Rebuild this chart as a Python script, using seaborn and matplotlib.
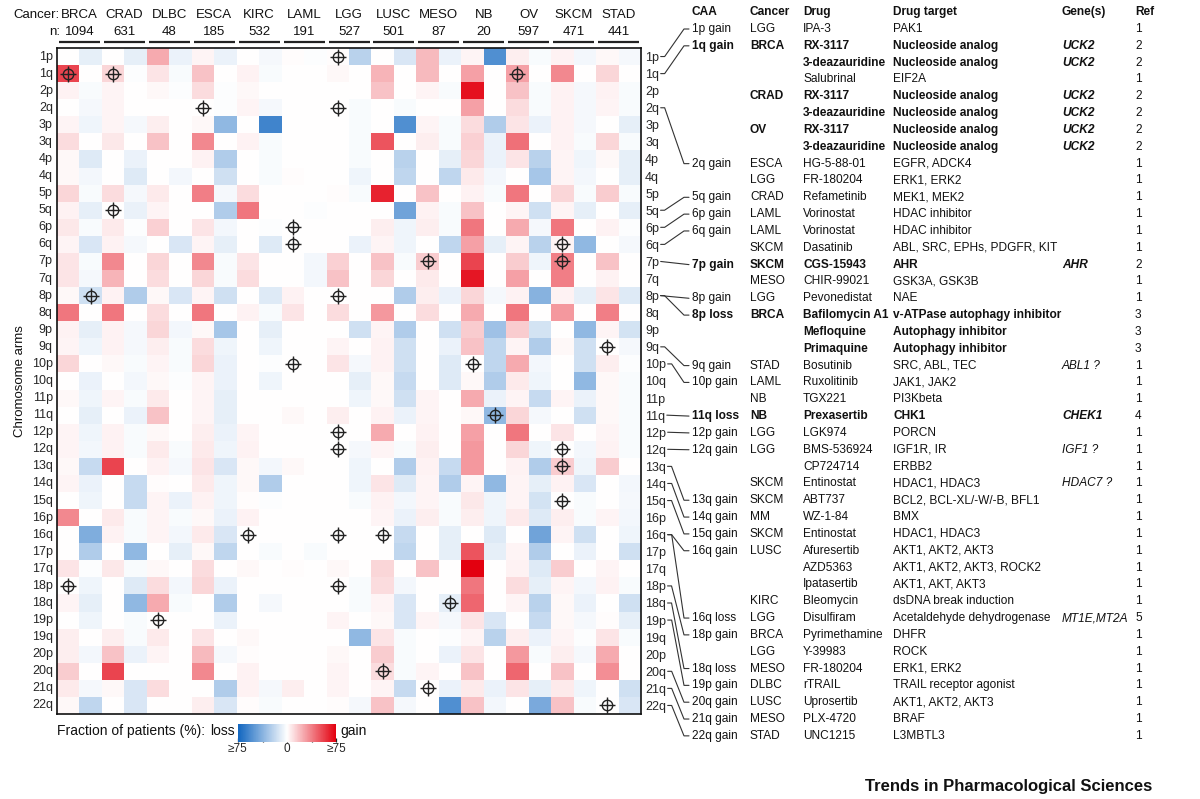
import numpy as np
import pandas as pd
import matplotlib
matplotlib.use('Agg')
import matplotlib.pyplot as plt
import seaborn as sns
from matplotlib.colors import LinearSegmentedColormap

# cancers and cohort sizes
cancers = ['BRCA', 'CRAD', 'DLBC', 'ESCA', 'KIRC', 'LAML', 'LGG',
           'LUSC', 'MESO', 'NB', 'OV', 'SKCM', 'STAD']
n_patients = [1094, 631, 48, 185, 532, 191, 527, 501, 87, 20, 597, 471, 441]

arms = ['1p', '1q', '2p', '2q', '3p', '3q', '4p', '4q', '5p', '5q', '6p', '6q',
        '7p', '7q', '8p', '8q', '9p', '9q', '10p', '10q', '11p', '11q', '12p',
        '12q', '13q', '14q', '15q', '16p', '16q', '17p', '17q', '18p', '18q',
        '19p', '19q', '20p', '20q', '21q', '22q']

# fraction of patients (%) with a gain, one row per arm, columns in cancer order
gain_pct = [
    [0, 0, 25, 3, 0, 1, 1, 0, 20, 3, 5, 4, 2],       # 1p
    [55, 12, 8, 18, 4, 0, 2, 22, 20, 28, 28, 35, 12],  # 1q
    [4, 3, 2, 10, 2, 0, 0, 18, 3, 70, 18, 4, 4],     # 2p
    [0, 3, 0, 0, 3, 0, 0, 0, 0, 28, 10, 4, 3],       # 2q
    [3, 3, 5, 2, 0, 0, 0, 0, 3, 10, 8, 4, 0],        # 3p
    [10, 7, 18, 35, 4, 0, 0, 50, 5, 14, 42, 4, 12],  # 3q
    [2, 0, 0, 4, 0, 0, 0, 0, 0, 12, 8, 3, 2],        # 4p
    [2, 0, 0, 0, 0, 1, 0, 0, 0, 6, 0, 3, 0],         # 4q
    [12, 10, 6, 38, 10, 0, 1, 65, 18, 4, 40, 12, 15],  # 5p
    [4, 0, 3, 0, 40, 0, 0, 0, 4, 18, 3, 3, 0],       # 5q
    [7, 6, 14, 8, 0, 0, 0, 5, 5, 40, 25, 40, 4],     # 6p
    [3, 4, 0, 3, 0, 0, 0, 3, 0, 28, 3, 3, 0],        # 6q
    [8, 35, 12, 35, 8, 0, 14, 18, 15, 55, 15, 38, 18],  # 7p
    [8, 22, 10, 12, 10, 0, 18, 12, 6, 68, 28, 38, 4],   # 7q
    [2, 4, 2, 3, 0, 4, 0, 0, 5, 12, 4, 4, 8],        # 8p
    [40, 40, 10, 40, 4, 8, 10, 30, 10, 25, 40, 30, 38],  # 8q
    [4, 4, 12, 2, 0, 0, 0, 3, 0, 15, 15, 0, 3],      # 9p
    [3, 4, 5, 10, 0, 0, 3, 4, 0, 18, 3, 2, 0],       # 9q
    [12, 2, 3, 12, 0, 0, 8, 4, 0, 0, 25, 0, 5],      # 10p
    [0, 0, 2, 3, 0, 0, 0, 2, 0, 2, 6, 0, 2],         # 10q
    [2, 3, 6, 3, 0, 0, 0, 2, 3, 25, 3, 3, 2],        # 11p
    [0, 0, 18, 3, 0, 2, 5, 4, 3, 2, 12, 0, 2],       # 11q
    [3, 4, 2, 5, 3, 0, 0, 25, 4, 28, 40, 8, 3],      # 12p
    [3, 4, 6, 6, 4, 0, 0, 3, 5, 30, 12, 0, 4],       # 12q
    [2, 55, 4, 8, 2, 2, 0, 0, 4, 30, 4, 15, 15],     # 13q
    [3, 0, 1, 6, 2, 0, 0, 8, 3, 3, 3, 4, 0],         # 14q
    [0, 0, 3, 4, 1, 0, 0, 4, 3, 7, 3, 0, 0],         # 15q
    [35, 6, 3, 2, 4, 0, 0, 3, 5, 5, 6, 5, 3],        # 16p
    [0, 4, 3, 6, 0, 0, 0, 0, 0, 0, 0, 3, 0],         # 16q
    [0, 0, 0, 2, 0, 0, 0, 0, 0, 50, 3, 0, 0],        # 17p
    [8, 7, 2, 10, 2, 1, 2, 12, 18, 75, 4, 15, 3],    # 17q
    [0, 0, 10, 12, 0, 0, 0, 10, 0, 40, 10, 3, 4],    # 18p
    [3, 0, 25, 0, 0, 0, 0, 3, 0, 45, 3, 2, 0],       # 18q
    [0, 0, 0, 0, 0, 0, 3, 2, 3, 8, 0, 2, 1],         # 19p
    [5, 5, 6, 8, 2, 0, 0, 8, 0, 3, 5, 3, 8],         # 19q
    [5, 18, 3, 20, 1, 0, 2, 15, 0, 8, 30, 5, 25],    # 20p
    [15, 55, 0, 35, 4, 0, 3, 10, 3, 18, 45, 18, 33],  # 20q
    [6, 2, 10, 0, 4, 5, 3, 3, 0, 6, 8, 6, 0],        # 21q
    [2, 0, 0, 5, 1, 0, 1, 18, 0, 18, 0, 18, 0],      # 22q
]

# fraction of patients (%) with a loss
loss_pct = [
    [8, 8, 6, 6, 3, 1, 22, 12, 6, 55, 2, 4, 3],      # 1p
    [0, 1, 2, 0, 2, 0, 0, 0, 0, 0, 0, 0, 0],         # 1q
    [2, 0, 1, 1, 0, 0, 0, 0, 2, 0, 2, 3, 2],         # 2p
    [3, 0, 0, 1, 3, 0, 2, 2, 0, 0, 2, 3, 2],         # 2q
    [5, 3, 0, 35, 60, 0, 2, 55, 2, 25, 6, 3, 8],     # 3p
    [0, 0, 0, 0, 2, 0, 2, 0, 2, 6, 0, 2, 2],         # 3q
    [10, 6, 0, 25, 2, 0, 2, 22, 8, 6, 22, 5, 8],     # 4p
    [4, 10, 4, 15, 2, 0, 5, 20, 20, 4, 28, 4, 8],    # 4q
    [2, 3, 0, 3, 0, 0, 2, 0, 0, 2, 0, 2, 2],         # 5p
    [8, 7, 0, 25, 0, 1, 0, 45, 2, 0, 15, 8, 8],      # 5q
    [2, 1, 0, 4, 1, 0, 0, 5, 2, 0, 3, 0, 1],         # 6p
    [12, 3, 12, 8, 10, 0, 6, 5, 20, 8, 22, 35, 3],   # 6q
    [2, 0, 0, 2, 0, 4, 0, 2, 0, 0, 5, 0, 0],         # 7p
    [3, 0, 0, 2, 0, 4, 0, 0, 0, 0, 0, 0, 0],         # 7q
    [15, 25, 12, 15, 10, 0, 0, 25, 6, 3, 38, 8, 10],  # 8p
    [0, 0, 0, 0, 2, 0, 0, 0, 0, 0, 0, 0, 0],         # 8q
    [8, 3, 4, 28, 8, 0, 15, 25, 15, 30, 14, 35, 14],  # 9p
    [5, 3, 2, 5, 5, 0, 0, 15, 6, 20, 25, 15, 3],     # 9q
    [0, 2, 2, 6, 1, 0, 3, 15, 10, 20, 4, 15, 1],     # 10p
    [6, 4, 1, 6, 5, 0, 8, 18, 10, 25, 5, 35, 2],     # 10q
    [5, 2, 0, 8, 0, 0, 5, 15, 0, 6, 18, 6, 2],       # 11p
    [8, 6, 0, 8, 0, 0, 0, 6, 0, 35, 3, 15, 2],       # 11q
    [5, 2, 0, 6, 0, 0, 0, 0, 0, 0, 0, 0, 2],         # 12p
    [4, 2, 2, 5, 0, 0, 3, 2, 0, 0, 5, 4, 2],         # 12q
    [18, 0, 3, 12, 4, 0, 5, 25, 18, 0, 25, 5, 0],    # 13q
    [6, 18, 0, 5, 25, 0, 5, 10, 25, 35, 8, 12, 4],   # 14q
    [5, 18, 6, 5, 1, 0, 2, 4, 2, 5, 14, 2, 3],       # 15q
    [0, 2, 2, 6, 0, 0, 0, 6, 2, 5, 10, 2, 4],        # 16p
    [40, 2, 4, 12, 0, 0, 0, 18, 8, 10, 45, 15, 5],   # 16q
    [25, 35, 8, 20, 2, 2, 0, 20, 8, 8, 25, 6, 15],   # 17p
    [1, 2, 0, 0, 0, 0, 0, 0, 0, 0, 10, 0, 0],        # 17q
    [5, 10, 4, 6, 0, 0, 2, 4, 0, 0, 8, 4, 2],        # 18p
    [8, 35, 2, 25, 3, 0, 2, 12, 8, 0, 22, 6, 15],    # 18q
    [5, 2, 0, 6, 0, 0, 0, 12, 3, 12, 18, 3, 8],      # 19p
    [0, 2, 0, 0, 0, 0, 35, 2, 1, 22, 6, 1, 2],       # 19q
    [4, 6, 0, 3, 0, 0, 0, 2, 6, 0, 2, 3, 0],         # 20p
    [0, 0, 0, 0, 0, 0, 0, 2, 0, 0, 0, 0, 0],         # 20q
    [3, 12, 0, 25, 3, 0, 0, 18, 6, 6, 8, 5, 15],     # 21q
    [20, 12, 0, 12, 2, 0, 3, 3, 55, 4, 42, 2, 12],   # 22q
]

# druggable arm alterations marked on the heatmap: (arm, cancer, side)
markers = [('1p', 'LGG', 'gain'), ('1q', 'BRCA', 'gain'), ('1q', 'CRAD', 'gain'),
           ('1q', 'OV', 'gain'), ('2q', 'ESCA', 'gain'), ('2q', 'LGG', 'gain'),
           ('5q', 'CRAD', 'gain'), ('6p', 'LAML', 'gain'), ('6q', 'LAML', 'gain'),
           ('6q', 'SKCM', 'gain'), ('7p', 'MESO', 'gain'), ('7p', 'SKCM', 'gain'),
           ('8p', 'BRCA', 'loss'), ('8p', 'LGG', 'gain'), ('9q', 'STAD', 'gain'),
           ('10p', 'LAML', 'gain'), ('10p', 'NB', 'gain'), ('11q', 'NB', 'loss'),
           ('12p', 'LGG', 'gain'), ('12q', 'LGG', 'gain'), ('12q', 'SKCM', 'gain'),
           ('13q', 'SKCM', 'gain'), ('15q', 'SKCM', 'gain'), ('16q', 'KIRC', 'gain'),
           ('16q', 'LGG', 'gain'), ('16q', 'LUSC', 'gain'), ('18p', 'BRCA', 'gain'),
           ('18p', 'LGG', 'gain'), ('18q', 'MESO', 'loss'), ('19p', 'DLBC', 'gain'),
           ('20q', 'LUSC', 'gain'), ('21q', 'MESO', 'gain'), ('22q', 'STAD', 'gain')]

# drug table
caa_col = ['1p gain', '1q gain', '', '', '', '', '', '', '2q gain', '', '5q gain',
           '6p gain', '6q gain', '', '7p gain', '', '8p gain', '8p loss', '', '',
           '9q gain', '10p gain', '', '11q loss', '12p gain', '12q gain', '', '',
           '13q gain', '14q gain', '15q gain', '16q gain', '', '', '', '16q loss',
           '18p gain', '', '18q loss', '19p gain', '20q gain', '21q gain', '22q gain']
cancer_col = ['LGG', 'BRCA', '', '', 'CRAD', '', 'OV', '', 'ESCA', 'LGG', 'CRAD',
              'LAML', 'LAML', 'SKCM', 'SKCM', 'MESO', 'LGG', 'BRCA', '', '', 'STAD',
              'LAML', 'NB', 'NB', 'LGG', 'LGG', '', 'SKCM', 'SKCM', 'MM', 'SKCM',
              'LUSC', '', '', 'KIRC', 'LGG', 'BRCA', 'LGG', 'MESO', 'DLBC', 'LUSC',
              'MESO', 'STAD']
drug_col = ['IPA-3', 'RX-3117', '3-deazauridine', 'Salubrinal', 'RX-3117',
            '3-deazauridine', 'RX-3117', '3-deazauridine', 'HG-5-88-01', 'FR-180204',
            'Refametinib', 'Vorinostat', 'Vorinostat', 'Dasatinib', 'CGS-15943',
            'CHIR-99021', 'Pevonedistat', 'Bafilomycin A1', 'Mefloquine', 'Primaquine',
            'Bosutinib', 'Ruxolitinib', 'TGX221', 'Prexasertib', 'LGK974', 'BMS-536924',
            'CP724714', 'Entinostat', 'ABT737', 'WZ-1-84', 'Entinostat', 'Afuresertib',
            'AZD5363', 'Ipatasertib', 'Bleomycin', 'Disulfiram', 'Pyrimethamine',
            'Y-39983', 'FR-180204', 'rTRAIL', 'Uprosertib', 'PLX-4720', 'UNC1215']
target_col = ['PAK1', 'Nucleoside analog', 'Nucleoside analog', 'EIF2A',
              'Nucleoside analog', 'Nucleoside analog', 'Nucleoside analog',
              'Nucleoside analog', 'EGFR, ADCK4', 'ERK1, ERK2', 'MEK1, MEK2',
              'HDAC inhibitor', 'HDAC inhibitor', 'ABL, SRC, EPHs, PDGFR, KIT', 'AHR',
              'GSK3A, GSK3B', 'NAE', 'v-ATPase autophagy inhibitor',
              'Autophagy inhibitor', 'Autophagy inhibitor', 'SRC, ABL, TEC',
              'JAK1, JAK2', 'PI3Kbeta', 'CHK1', 'PORCN', 'IGF1R, IR', 'ERBB2',
              'HDAC1, HDAC3', 'BCL2, BCL-XL/-W/-B, BFL1', 'BMX', 'HDAC1, HDAC3',
              'AKT1, AKT2, AKT3', 'AKT1, AKT2, AKT3, ROCK2', 'AKT1, AKT, AKT3',
              'dsDNA break induction', 'Acetaldehyde dehydrogenase', 'DHFR', 'ROCK',
              'ERK1, ERK2', 'TRAIL receptor agonist', 'AKT1, AKT2, AKT3', 'BRAF',
              'L3MBTL3']
gene_col = ['', 'UCK2', 'UCK2', '', 'UCK2', 'UCK2', 'UCK2', 'UCK2', '', '', '', '',
            '', '', 'AHR', '', '', '', '', '', 'ABL1 ?', '', '', 'CHEK1', '', 'IGF1 ?',
            '', 'HDAC7 ?', '', '', '', '', '', '', '', 'MT1E,MT2A', '', '', '', '', '',
            '', '']
ref_col = [1, 2, 2, 1, 2, 2, 2, 2, 1, 1, 1, 1, 1, 1, 2, 1, 1, 3, 3, 3, 1, 1, 1, 4,
           1, 1, 1, 1, 1, 1, 1, 1, 1, 1, 1, 5, 1, 1, 1, 1, 1, 1, 1]
bold_rows = [1, 2, 4, 5, 6, 7, 14, 17, 18, 19, 23]

# which table row each arm label is connected to
arm_links = [('1p', 0), ('1q', 1), ('2q', 8), ('5q', 10), ('6p', 11), ('6q', 12),
             ('7p', 14), ('8p', 16), ('8p', 17), ('9q', 20), ('10p', 21), ('11q', 23),
             ('12p', 24), ('12q', 25), ('13q', 28), ('14q', 29), ('15q', 30),
             ('16q', 31), ('16q', 35), ('18p', 36), ('18q', 38), ('19p', 39),
             ('20q', 40), ('21q', 41), ('22q', 42)]

sns.set_style('white')
plt.rcParams['font.family'] = ['Liberation Sans', 'DejaVu Sans']
plt.rcParams['text.color'] = '#111111'

gain = np.array(gain_pct, dtype=float)
loss = np.array(loss_pct, dtype=float)
columns = []
for c in cancers:
    columns += [c + ' gain', c + ' loss']
vals = np.zeros((len(arms), 2 * len(cancers)))
vals[:, 0::2] = gain
vals[:, 1::2] = -loss
df = pd.DataFrame(vals, index=arms, columns=columns)

cmap = LinearSegmentedColormap.from_list('lossgain', ['#1166c0', '#ffffff', '#e3000f'])

W, H = 1200, 799
fig = plt.figure(figsize=(W / 100, H / 100), dpi=100)
ax = fig.add_axes([57 / W, 1 - 714 / H, 584 / W, 666 / H])
sns.heatmap(df, ax=ax, cmap=cmap, vmin=-75, vmax=75, cbar=False,
            xticklabels=False, yticklabels=True)
ax.tick_params(axis='y', length=0, pad=3, labelsize=9, labelleft=True,
               labelright=True, labelrotation=0)
ax.tick_params(axis='x', length=0)
ax.set_xlabel('')
ax.set_ylabel('')
for s in ax.spines.values():
    s.set_visible(True)
    s.set_linewidth(1.2)
    s.set_color('#111111')

# crosshair markers
for arm, canc, side in markers:
    col = columns.index(canc + ' ' + side) + 0.5
    row = arms.index(arm) + 0.5
    ax.plot(col, row, marker='o', ms=7.5, mfc='none', mec='#222222', mew=1)
    ax.plot(col, row, marker='+', ms=11.5, mec='#222222', mew=1)

# overlay in pixel coordinates for the header, legend text and table
lay = fig.add_axes([0, 0, 1, 1])
lay.set_xlim(0, W)
lay.set_ylim(H, 0)
lay.axis('off')
lay.patch.set_alpha(0)


def to_px(xd, yd):
    disp = ax.transData.transform((xd, yd))
    return lay.transData.inverted().transform(disp)


lay.text(60, 15, 'Cancer:', ha='right', va='center', fontsize=9.5)
lay.text(60, 32, 'n:', ha='right', va='center', fontsize=9.5)
for i, c in enumerate(cancers):
    cx = to_px(2 * i + 1, 0)[0]
    lay.text(cx, 15, c, ha='center', va='center', fontsize=9.5)
    lay.text(cx, 32, str(n_patients[i]), ha='center', va='center', fontsize=9.5)
    lay.plot([cx - 20.5, cx + 20.5], [42, 42], color='#222222', lw=1.6,
             solid_capstyle='butt')

lay.text(20, 381, 'Chromosome arms', rotation=90, ha='center', va='center',
         fontsize=9.5)

# colour legend
lay.text(57, 731, 'Fraction of patients (%):', ha='left', va='center', fontsize=10)
lay.text(235, 731, 'loss', ha='right', va='center', fontsize=10)
lay.text(340, 731, 'gain', ha='left', va='center', fontsize=10)
cax = fig.add_axes([238 / W, 1 - 742 / H, 98 / W, 18 / H])
cb = fig.colorbar(ax.collections[0], cax=cax, orientation='horizontal')
cb.outline.set_visible(False)
cb.set_ticks([-75, -37.5, 0, 37.5, 75])
cb.set_ticklabels(['≥75', '', '0', '', '≥75'])
cax.tick_params(direction='in', length=3, width=0.9, labelsize=8.5, pad=1,
                color='#222222')

# table
tsize = 8.6
col_x = [692, 750, 803, 893, 1062, 1135]
headers = ['CAA', 'Cancer', 'Drug', 'Drug target', 'Gene(s)', 'Ref']
for x, h in zip(col_x, headers):
    lay.text(x, 12, h, ha='left', va='center', fontsize=tsize, fontweight='bold')

row_y0, row_dy = 29, 16.83
for i in range(len(drug_col)):
    y = row_y0 + row_dy * i
    fw = 'bold' if i in bold_rows else 'normal'
    cells = [caa_col[i], cancer_col[i], drug_col[i], target_col[i]]
    for x, t in zip(col_x[:4], cells):
        lay.text(x, y, t, ha='left', va='center', fontsize=tsize, fontweight=fw)
    lay.text(col_x[4], y, gene_col[i], ha='left', va='center', fontsize=tsize,
             fontweight=fw, fontstyle='italic')
    lay.text(col_x[5], y, str(ref_col[i]), ha='left', va='center', fontsize=tsize)

# connectors from arm labels to table rows
fig.canvas.draw()
renderer = fig.canvas.get_renderer()
ticks = ax.yaxis.get_major_ticks()
for arm, tr in arm_links:
    r = arms.index(arm)
    bb = ticks[r].label2.get_window_extent(renderer)
    xs = lay.transData.inverted().transform((bb.x1, 0))[0] + 1.5
    ya = to_px(0, r + 0.5)[1]
    yr = row_y0 + row_dy * tr
    if abs(yr - ya) < 4:
        lay.plot([xs, 689], [ya, yr], color='#333333', lw=0.8)
    else:
        lay.plot([xs, xs + 4, 684, 689], [ya, ya, yr, yr], color='#333333', lw=0.8)

lay.text(1152, 787, 'Trends in Pharmacological Sciences', ha='right', va='center',
         fontsize=12, fontweight='bold')

fig.savefig('out.png', dpi=100)
